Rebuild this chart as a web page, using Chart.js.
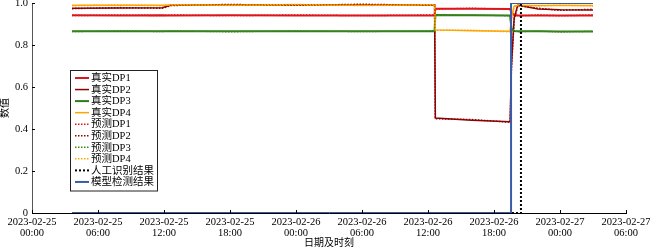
<!DOCTYPE html>
<html>
<head>
<meta charset="utf-8">
<script src="https://cdn.jsdelivr.net/npm/chart.js@4"></script>
<style>
  body { margin: 0; background: #fff; }
</style>
</head>
<body>
<canvas id="chart" width="650" height="250"></canvas>
<script>
// shared time stamps for the DP series
const times = [
  '2023-02-25T03:38', '2023-02-25T08:00', '2023-02-25T11:50', '2023-02-25T12:40',
  '2023-02-25T18:00', '2023-02-26T00:00', '2023-02-26T06:00', '2023-02-26T12:36',
  '2023-02-26T12:40', '2023-02-26T16:00', '2023-02-26T19:28', '2023-02-26T19:35',
  '2023-02-26T19:50', '2023-02-26T20:10', '2023-02-26T22:00', '2023-02-27T00:00',
  '2023-02-27T03:00'
];

const realDP1 = [0.942, 0.941, 0.942, 0.941, 0.942, 0.941, 0.941, 0.941, 0.973, 0.973, 0.972, 0.955, 0.943, 0.941, 0.941, 0.941, 0.941];
const realDP2 = [0.975, 0.976, 0.977, 0.990, 0.991, 0.992, 0.992, 0.991, 0.452, 0.442, 0.435, 0.700, 0.930, 0.990, 0.972, 0.968, 0.967];
const realDP3 = [0.866, 0.866, 0.866, 0.866, 0.865, 0.866, 0.866, 0.866, 0.943, 0.942, 0.941, 0.880, 0.866, 0.865, 0.865, 0.864, 0.864];
const realDP4 = [0.989, 0.989, 0.989, 0.990, 0.991, 0.991, 0.990, 0.990, 0.872, 0.868, 0.865, 0.930, 0.985, 0.988, 0.988, 0.988, 0.988];

const predDP1 = [0.940, 0.943, 0.940, 0.943, 0.940, 0.943, 0.940, 0.943, 0.971, 0.975, 0.970, 0.950, 0.945, 0.939, 0.943, 0.939, 0.943];
const predDP2 = [0.973, 0.978, 0.975, 0.988, 0.993, 0.989, 0.994, 0.989, 0.449, 0.445, 0.432, 0.680, 0.920, 0.987, 0.975, 0.965, 0.970];
const predDP3 = [0.864, 0.868, 0.864, 0.868, 0.863, 0.868, 0.864, 0.868, 0.941, 0.944, 0.939, 0.875, 0.868, 0.863, 0.867, 0.862, 0.866];
const predDP4 = [0.987, 0.991, 0.987, 0.992, 0.989, 0.993, 0.988, 0.992, 0.870, 0.870, 0.863, 0.920, 0.983, 0.990, 0.986, 0.990, 0.986];

const manualTimes = ['2023-02-25T03:38', '2023-02-26T20:27', '2023-02-26T20:27', '2023-02-27T03:00'];
const manualResult = [0, 0, 1, 1];
const modelTimes = ['2023-02-25T03:38', '2023-02-26T19:33', '2023-02-26T19:33', '2023-02-27T03:00'];
const modelResult = [0, 0, 1, 1];

const xStart = '2023-02-25T00:00';
const xEnd = '2023-02-27T06:00';
const yTicks = [0, 0.2, 0.4, 0.6, 0.8, 1.0];

const SIX_HOURS = 6 * 3600 * 1000;
const serif = "'Liberation Serif', 'Noto Sans CJK SC', serif";

function ms(s) { return new Date(s + ':00Z').getTime(); }
function pts(ts, vals) { return ts.map((t, i) => ({ x: ms(t), y: vals[i] })); }
function pad(n) { return String(n).padStart(2, '0'); }

function line(label, ts, vals, color, width, dash) {
  return {
    label: label,
    data: pts(ts, vals),
    borderColor: color,
    backgroundColor: color,
    borderWidth: width,
    borderDash: dash || [],
    pointRadius: 0,
    tension: 0,
    fill: false
  };
}

const datasets = [
  line('真实DP1', times, realDP1, '#d7191c', 2),
  line('真实DP2', times, realDP2, '#8b0000', 1.5),
  line('真实DP3', times, realDP3, '#2e7d18', 2),
  line('真实DP4', times, realDP4, '#ffa500', 1.5),
  line('预测DP1', times, predDP1, '#e8101a', 1.5, [1.5, 1.5]),
  line('预测DP2', times, predDP2, '#8b0000', 1.5, [1.5, 1.5]),
  line('预测DP3', times, predDP3, '#3d8a1e', 1.5, [1.5, 1.5]),
  line('预测DP4', times, predDP4, '#ffa500', 1.5, [1.5, 1.5]),
  line('人工识别结果', manualTimes, manualResult, '#000000', 2, [2, 2]),
  line('模型检测结果', modelTimes, modelResult, '#3c5aa8', 2)
];
// later series drawn on top, like the original plot
datasets.forEach((d, i) => { d.order = datasets.length - i; });

// small inward tick marks on both axes
const innerTicks = {
  id: 'innerTicks',
  afterDraw(chart) {
    const ctx = chart.ctx;
    const xs = chart.scales.x, ys = chart.scales.y;
    ctx.save();
    ctx.strokeStyle = '#000';
    ctx.lineWidth = 1;
    ctx.beginPath();
    xs.ticks.forEach(t => {
      const px = Math.round(xs.getPixelForValue(t.value)) + 0.5;
      ctx.moveTo(px, ys.bottom);
      ctx.lineTo(px, ys.bottom - 3);
    });
    ys.ticks.forEach(t => {
      const py = Math.round(ys.getPixelForValue(t.value)) + 0.5;
      ctx.moveTo(xs.left, py);
      ctx.lineTo(xs.left + 3, py);
    });
    ctx.stroke();
    ctx.restore();
  }
};

// boxed legend inside the plot area, left side
const boxLegend = {
  id: 'boxLegend',
  afterDraw(chart) {
    const ctx = chart.ctx;
    const area = chart.chartArea;
    const left = area.left + 38, top = area.top + 67;
    const w = 87, rowH = 11.55, h = rowH * chart.data.datasets.length + 5;
    ctx.save();
    ctx.fillStyle = 'rgba(255,255,255,0.9)';
    ctx.fillRect(left, top, w, h);
    ctx.strokeStyle = '#222';
    ctx.lineWidth = 1;
    ctx.strokeRect(left + 0.5, top + 0.5, w, h);
    ctx.font = '10.5px ' + serif;
    ctx.textBaseline = 'middle';
    chart.data.datasets.forEach((d, i) => {
      const y = top + 8 + i * rowH;
      ctx.strokeStyle = d.borderColor;
      ctx.lineWidth = d.borderWidth;
      ctx.setLineDash(d.borderDash);
      ctx.beginPath();
      ctx.moveTo(left + 5, y);
      ctx.lineTo(left + 19, y);
      ctx.stroke();
      ctx.setLineDash([]);
      ctx.fillStyle = '#000';
      ctx.fillText(d.label, left + 21, y + 0.5);
    });
    ctx.restore();
  }
};

new Chart(document.getElementById('chart').getContext('2d'), {
  type: 'line',
  data: { datasets: datasets },
  options: {
    responsive: false,
    animation: false,
    devicePixelRatio: 1,
    layout: { padding: 0 },
    plugins: {
      legend: { display: false },
      tooltip: { enabled: false }
    },
    scales: {
      x: {
        type: 'linear',
        min: ms(xStart),
        max: ms(xEnd),
        grid: { display: false, drawTicks: false },
        border: { color: '#000', width: 1 },
        afterFit: (scale) => { scale.height = 37; scale.paddingRight = 24; },
        ticks: {
          stepSize: SIX_HOURS,
          maxRotation: 0,
          autoSkip: false,
          padding: 4,
          color: '#000',
          font: { family: serif, size: 10.5, lineHeight: 1.05 },
          callback: (v) => {
            const d = new Date(v);
            return [d.getUTCFullYear() + '-' + pad(d.getUTCMonth() + 1) + '-' + pad(d.getUTCDate()),
                    pad(d.getUTCHours()) + ':' + pad(d.getUTCMinutes())];
          }
        },
        title: {
          display: true,
          text: '日期及时刻',
          color: '#000',
          font: { family: serif, size: 10, lineHeight: 1.1 },
          padding: { top: 0, bottom: 1 }
        }
      },
      y: {
        min: 0,
        max: 1,
        grid: { display: false, drawTicks: false },
        border: { color: '#555', width: 1 },
        afterBuildTicks: (scale) => { scale.ticks = yTicks.map(v => ({ value: v })); },
        afterFit: (scale) => { scale.width = 32; scale.paddingTop = 3; },
        ticks: {
          padding: 4,
          color: '#000',
          font: { family: serif, size: 10.5 },
          callback: (v) => v === 0 ? '0' : v.toFixed(1)
        },
        title: {
          display: true,
          text: '数值',
          color: '#000',
          font: { family: serif, size: 10, lineHeight: 1.1 },
          padding: { top: 0, bottom: 0 }
        }
      }
    }
  },
  plugins: [innerTicks, boxLegend]
});
</script>
</body>
</html>
